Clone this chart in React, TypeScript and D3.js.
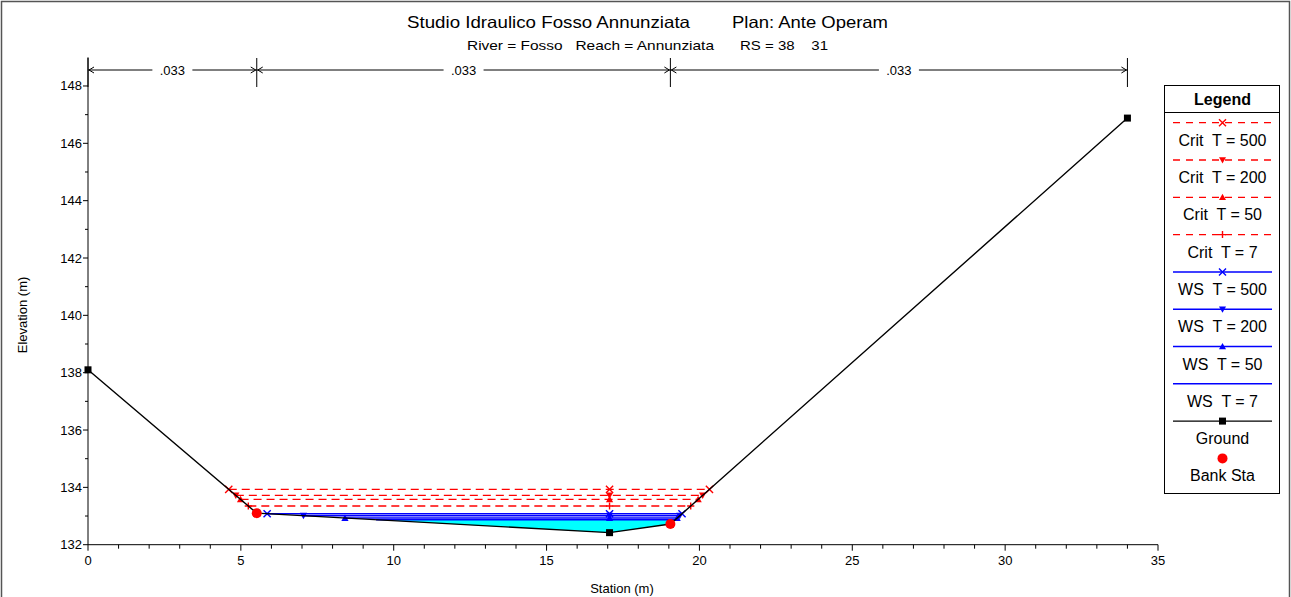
import React from "react";
import * as d3 from "d3";

// ---------- DATA ----------
const groundSta = [0, 5.52, 17.06, 19.05, 34.0];
const groundElev = [138.1, 133.1, 132.42, 132.72, 146.88];
const bankSta = [5.52, 19.05];
const profileNames = ["T = 500", "T = 200", "T = 50", "T = 7"];
const critElev = [133.93, 133.72, 133.58, 133.35];
const wsElev = [133.08, 133.01, 132.93, 132.87];
const markerTypes = ["x", "tdown", "tup", "plus"];
const wsMarkerTypes = ["x", "tdown", "tup", "none"];
const nBreaks = [0, 5.52, 19.05, 34.0];
const nValues = [".033", ".033", ".033"];
const xTicks = [0, 5, 10, 15, 20, 25, 30, 35];
const yTicks = [132, 134, 136, 138, 140, 142, 144, 146, 148];

const W = 1291;
const H = 597;
const FONT = "'Liberation Sans', Arial, Helvetica, sans-serif";

const x = d3.scaleLinear().domain([0, 35]).range([88, 1158]);
const y = d3.scaleLinear().domain([132, 149]).range([544.7, 544.7 - 17 * 28.67]);

function crossings(level: number) {
  let iMin = 0;
  groundElev.forEach((e, i) => { if (e < groundElev[iMin]) iMin = i; });
  let i = iMin;
  while (i > 0 && groundElev[i - 1] < level) i--;
  const l0 = i - 1, l1 = i;
  const xl = groundSta[l0] + (level - groundElev[l0]) * (groundSta[l1] - groundSta[l0]) / (groundElev[l1] - groundElev[l0]);
  let j = iMin;
  while (j < groundElev.length - 1 && groundElev[j + 1] < level) j++;
  const r0 = j, r1 = j + 1;
  const xr = groundSta[r0] + (level - groundElev[r0]) * (groundSta[r1] - groundSta[r0]) / (groundElev[r1] - groundElev[r0]);
  const inner: number[] = [];
  for (let k = l1; k <= r0; k++) inner.push(k);
  return { xl, xr, inner, thalweg: groundSta[iMin] };
}

function Marker({ type, cx, cy, color, s = 3.5 }: { type: string; cx: number; cy: number; color: string; s?: number }) {
  if (type === "x")
    return <path d={`M${cx - s},${cy - s}L${cx + s},${cy + s}M${cx - s},${cy + s}L${cx + s},${cy - s}`} stroke={color} strokeWidth={1.4} fill="none" />;
  if (type === "plus")
    return <path d={`M${cx - s},${cy}L${cx + s},${cy}M${cx},${cy - s}L${cx},${cy + s}`} stroke={color} strokeWidth={1.4} fill="none" />;
  if (type === "tdown")
    return <path d={`M${cx - s},${cy - s * 0.8}L${cx + s},${cy - s * 0.8}L${cx},${cy + s}Z`} fill={color} />;
  if (type === "tup")
    return <path d={`M${cx - s},${cy + s * 0.8}L${cx + s},${cy + s * 0.8}L${cx},${cy - s}Z`} fill={color} />;
  if (type === "square")
    return <rect x={cx - 3.5} y={cy - 3.5} width={7} height={7} fill={color} />;
  if (type === "dot")
    return <circle cx={cx} cy={cy} r={5} fill={color} />;
  return null;
}

export default function App() {
  const groundLine = d3.line<number>().x((_, i) => x(groundSta[i])).y((d) => y(d));

  const fillLevel = wsElev[wsElev.length - 1];
  const fc = crossings(fillLevel);
  const fillPts: [number, number][] = [[fc.xl, fillLevel], ...fc.inner.map((k) => [groundSta[k], groundElev[k]] as [number, number]), [fc.xr, fillLevel]];
  const fillArea = d3.area<[number, number]>().x((d) => x(d[0])).y0((d) => y(d[1])).y1(y(fillLevel));

  const profileLine = (level: number) => {
    const c = crossings(level);
    return { c, d: d3.line<number>().x((d) => x(d)).y(y(level))([c.xl, c.xr]) as string };
  };

  const yMinor = d3.range(133, 149, 2);
  const xMinor = d3.range(0, 36, 1).filter((v) => v % 5 !== 0);

  const legendItems = [
    ...profileNames.map((p, i) => ({ label: `Crit  ${p}`, kind: "crit", marker: markerTypes[i] })),
    ...profileNames.map((p, i) => ({ label: `WS  ${p}`, kind: "ws", marker: wsMarkerTypes[i] })),
    { label: "Ground", kind: "ground", marker: "square" },
    { label: "Bank Sta", kind: "bank", marker: "dot" },
  ];
  const legX0 = 1173, legX1 = 1272, legCx = 1222.5;

  const nY = 70;
  const pre = { whiteSpace: "pre" as const };

  return (
    <svg width={W} height={H} style={{ position: "absolute", left: 0, top: 0, background: "#fff" }} fontFamily={FONT}>
      <rect x={1.5} y={1.5} width={W - 3} height={H + 5} fill="none" stroke="#555" strokeWidth={1.5} />

      {/* Titles */}
      <text x={407} y={28} fontSize={16.5} textLength={283} lengthAdjust="spacingAndGlyphs">Studio Idraulico Fosso Annunziata</text>
      <text x={732} y={28} fontSize={16.5} textLength={156} lengthAdjust="spacingAndGlyphs">Plan: Ante Operam</text>
      <text x={467} y={50} fontSize={13} style={pre} textLength={247} lengthAdjust="spacingAndGlyphs">River = Fosso   Reach = Annunziata</text>
      <text x={740} y={50} fontSize={13} style={pre} textLength={88} lengthAdjust="spacingAndGlyphs">RS = 38    31</text>

      {/* Cyan fill */}
      <path d={fillArea(fillPts) as string} fill="#00ffff" />

      {/* Crit lines */}
      {critElev.map((lv, i) => {
        const { c, d } = profileLine(lv);
        return (
          <g key={`c${i}`}>
            <path d={d} stroke="#ff0000" strokeWidth={1.3} strokeDasharray="8,5" fill="none" />
            {[c.xl, c.thalweg, c.xr].map((sx, k) => (
              <Marker key={k} type={markerTypes[i]} cx={x(sx)} cy={y(lv)} color="#ff0000" s={3.6} />
            ))}
          </g>
        );
      })}

      {/* WS lines */}
      {wsElev.map((lv, i) => {
        const { c, d } = profileLine(lv);
        return (
          <g key={`w${i}`}>
            <path d={d} stroke="#0000ff" strokeWidth={1.5} fill="none" />
            {[c.xl, c.thalweg, c.xr].map((sx, k) => (
              <Marker key={k} type={wsMarkerTypes[i]} cx={x(sx)} cy={y(lv)} color="#0000ff" s={3.6} />
            ))}
          </g>
        );
      })}

      {/* Ground */}
      <path d={groundLine(groundElev) as string} stroke="#000" strokeWidth={1.4} fill="none" />
      {groundSta.map((s, i) => (
        <Marker key={`g${i}`} type="square" cx={x(s)} cy={y(groundElev[i])} color="#000" />
      ))}
      {bankSta.map((s, i) => {
        const e = groundElev[groundSta.indexOf(s)];
        return <Marker key={`b${i}`} type="dot" cx={x(s)} cy={y(e)} color="#ff0000" />;
      })}

      {/* Axes */}
      <line x1={x(0)} x2={x(0)} y1={y(132)} y2={y(149)} stroke="#000" strokeWidth={1} />
      <line x1={x(0)} x2={x(35)} y1={y(132)} y2={y(132)} stroke="#000" strokeWidth={1} />
      {yTicks.map((t) => (
        <g key={`yt${t}`}>
          <line x1={x(0) - 5} x2={x(0)} y1={y(t)} y2={y(t)} stroke="#000" />
          <text x={x(0) - 6} y={y(t) + 4.5} fontSize={13} textAnchor="end">{t}</text>
        </g>
      ))}
      {yMinor.map((t) => (
        <line key={`ym${t}`} x1={x(0) - 3} x2={x(0)} y1={y(t)} y2={y(t)} stroke="#000" />
      ))}
      {xTicks.map((t) => (
        <g key={`xt${t}`}>
          <line x1={x(t)} x2={x(t)} y1={y(132)} y2={y(132) + 6} stroke="#000" />
          <text x={x(t)} y={y(132) + 20} fontSize={13} textAnchor="middle">{t}</text>
        </g>
      ))}
      {xMinor.map((t) => (
        <line key={`xm${t}`} x1={x(t)} x2={x(t)} y1={y(132)} y2={y(132) + 4} stroke="#000" />
      ))}
      <text x={622} y={593} fontSize={13} textAnchor="middle">Station (m)</text>
      <text transform={`translate(27,315) rotate(-90)`} fontSize={13} textAnchor="middle">Elevation (m)</text>

      {/* Manning's n */}
      {nBreaks.map((s, i) => (
        <line key={`nb${i}`} x1={x(s)} x2={x(s)} y1={58} y2={87} stroke="#000" />
      ))}
      {nValues.map((v, i) => {
        const a = x(nBreaks[i]), b = x(nBreaks[i + 1]);
        const m = (a + b) / 2;
        return (
          <g key={`nv${i}`}>
            <line x1={a} x2={b} y1={nY} y2={nY} stroke="#000" />
            <path d={`M${a + 6},${nY - 3}L${a + 1},${nY}L${a + 6},${nY + 3}`} stroke="#000" fill="none" />
            <path d={`M${b - 6},${nY - 3}L${b - 1},${nY}L${b - 6},${nY + 3}`} stroke="#000" fill="none" />
            <rect x={m - 20} y={nY - 8} width={40} height={16} fill="#fff" />
            <text x={m} y={nY + 5} fontSize={13} textAnchor="middle">{v}</text>
          </g>
        );
      })}

      {/* Legend */}
      <rect x={1164.5} y={85.5} width={115} height={408} fill="#fff" stroke="#000" strokeWidth={1} />
      <line x1={1164.5} x2={1279.5} y1={112.5} y2={112.5} stroke="#000" />
      <text x={legCx} y={105} fontSize={16} fontWeight="bold" textAnchor="middle">Legend</text>
      {legendItems.map((it, i) => {
        const ly = 122.7 + i * 37.3;
        const color = it.kind === "crit" ? "#ff0000" : it.kind === "ws" ? "#0000ff" : it.kind === "ground" ? "#000" : "#ff0000";
        return (
          <g key={`lg${i}`}>
            {it.kind !== "bank" && (
              <line x1={legX0} x2={legX1} y1={ly} y2={ly} stroke={color} strokeWidth={it.kind === "ws" ? 1.5 : 1.3}
                strokeDasharray={it.kind === "crit" ? "7,6" : undefined} />
            )}
            <Marker type={it.marker} cx={legCx} cy={ly} color={color} s={3.5} />
            <text x={legCx} y={ly + 23} fontSize={16} textAnchor="middle" style={pre}>{it.label}</text>
          </g>
        );
      })}
    </svg>
  );
}
